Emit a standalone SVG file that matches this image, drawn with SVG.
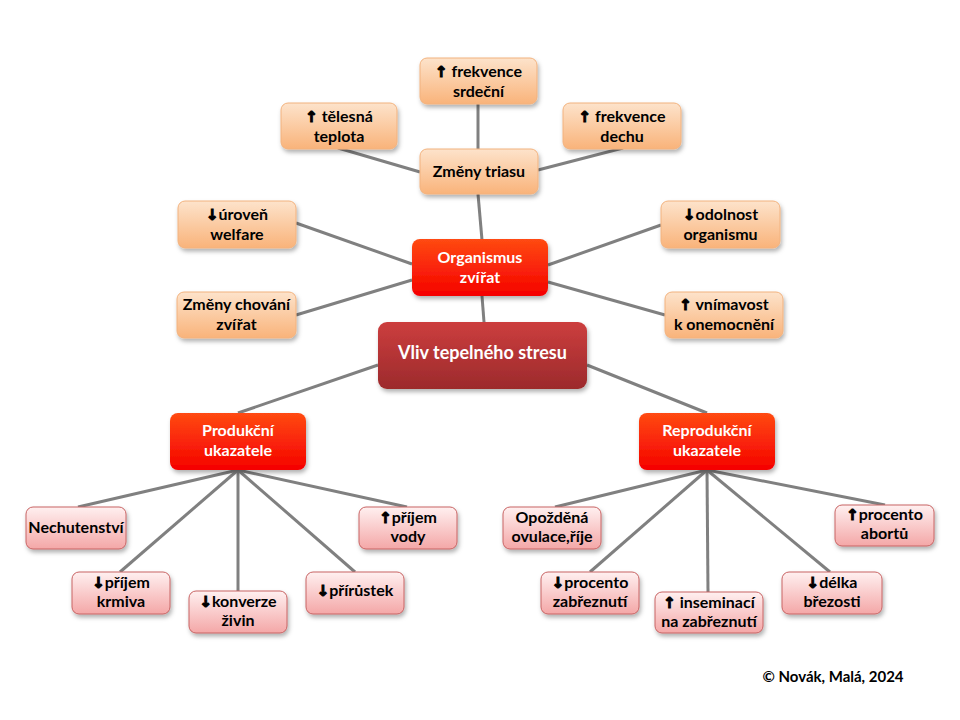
<svg xmlns="http://www.w3.org/2000/svg" width="960" height="720" viewBox="0 0 960 720">
<defs>
<linearGradient id="gOr" x1="0" y1="0" x2="0" y2="1"><stop offset="0" stop-color="#fde3cb"/><stop offset="1" stop-color="#f9b37a"/></linearGradient>
<linearGradient id="gRed" x1="0" y1="0" x2="0" y2="1"><stop offset="0" stop-color="#ff4a12"/><stop offset="1" stop-color="#f50000"/></linearGradient>
<linearGradient id="gDark" x1="0" y1="0" x2="0" y2="1"><stop offset="0" stop-color="#cc3e3e"/><stop offset="1" stop-color="#9c2a2c"/></linearGradient>
<linearGradient id="gPink" x1="0" y1="0" x2="0" y2="1"><stop offset="0" stop-color="#fff0f0"/><stop offset="1" stop-color="#f4a7a7"/></linearGradient>
<filter id="sh" x="-20%" y="-20%" width="140%" height="150%"><feDropShadow dx="1.5" dy="3" stdDeviation="2" flood-color="#000" flood-opacity="0.3"/></filter>
</defs>
<style>
.or{fill:url(#gOr);stroke:#f2b27e;stroke-width:1;filter:url(#sh)}
.rd{fill:url(#gRed);stroke:none;filter:url(#sh)}
.dk{fill:url(#gDark);stroke:none;filter:url(#sh)}
.pk{fill:url(#gPink);stroke:#c86464;stroke-width:1;filter:url(#sh)}
text{font-family:Lato,"Liberation Sans",sans-serif;font-weight:bold;font-size:16px;text-anchor:middle;fill:#000}
.ar{font-family:"DejaVu Sans",sans-serif;font-weight:bold;font-size:15px;stroke:#000;stroke-width:1.1}
.w{fill:#fff}
.big{font-size:18px}
.cp{font-size:15px}
#connectors line{stroke:#808080;stroke-width:3}
</style>
<rect width="960" height="720" fill="#fff"/>
<g id="connectors">
<line x1="478" y1="104" x2="478" y2="149"/>
<line x1="338" y1="148" x2="420" y2="172"/>
<line x1="623" y1="148" x2="538" y2="170"/>
<line x1="478" y1="194" x2="482" y2="240"/>
<line x1="296" y1="223" x2="412" y2="264"/>
<line x1="296" y1="315" x2="412" y2="280"/>
<line x1="661" y1="225" x2="548" y2="265"/>
<line x1="665" y1="315" x2="548" y2="282"/>
<line x1="482" y1="296" x2="484" y2="322"/>
<line x1="378" y1="365" x2="238" y2="413"/>
<line x1="587" y1="365" x2="707" y2="413"/>
<line x1="238" y1="470" x2="78" y2="507"/>
<line x1="238" y1="470" x2="120" y2="572"/>
<line x1="238" y1="470" x2="238" y2="591"/>
<line x1="238" y1="470" x2="355" y2="572"/>
<line x1="238" y1="470" x2="407" y2="507"/>
<line x1="707" y1="470" x2="555" y2="507"/>
<line x1="707" y1="470" x2="590" y2="572"/>
<line x1="707" y1="470" x2="708" y2="592"/>
<line x1="707" y1="470" x2="830" y2="572"/>
<line x1="707" y1="470" x2="885" y2="505"/>
</g>
<g id="srdecni"><rect class="or" x="420" y="58" width="117" height="46" rx="7"/><text x="478.5" y="77"><tspan class="ar">↑</tspan> frekvence</text><text x="478.5" y="97">srdeční</text></g>
<g id="telesna"><rect class="or" x="281" y="103" width="116" height="46" rx="7"/><text x="339" y="122"><tspan class="ar">↑</tspan> tělesná</text><text x="339" y="142">teplota</text></g>
<g id="dechu"><rect class="or" x="563" y="103" width="118" height="46" rx="7"/><text x="622" y="122"><tspan class="ar">↑</tspan> frekvence</text><text x="622" y="142">dechu</text></g>
<g id="triasu"><rect class="or" x="420" y="149" width="118" height="45" rx="7"/><text x="479" y="177">Změny triasu</text></g>
<g id="welfare"><rect class="or" x="178" y="201" width="118" height="47" rx="7"/><text x="237" y="220"><tspan class="ar">↓</tspan>úroveň</text><text x="237" y="240">welfare</text></g>
<g id="chovani"><rect class="or" x="177" y="292" width="119" height="46" rx="7"/><text x="236.5" y="310">Změny chování</text><text x="236.5" y="330">zvířat</text></g>
<g id="odolnost"><rect class="or" x="661" y="201" width="119" height="47" rx="7"/><text x="720.5" y="220"><tspan class="ar">↓</tspan>odolnost</text><text x="720.5" y="240">organismu</text></g>
<g id="vnimavost"><rect class="or" x="665" y="292" width="118" height="46" rx="7"/><text x="724" y="310"><tspan class="ar">↑</tspan> vnímavost</text><text x="724" y="330">k onemocnění</text></g>
<g id="organismus"><rect class="rd" x="412" y="239" width="136" height="57" rx="8"/><text class="w" x="480" y="263">Organismus</text><text class="w" x="480" y="283">zvířat</text></g>
<g id="vliv"><rect class="dk" x="378" y="322" width="209" height="67" rx="9"/><text class="w big" x="482.5" y="359">Vliv tepelného stresu</text></g>
<g id="produkcni"><rect class="rd" x="170" y="413" width="136" height="57" rx="8"/><text class="w" x="238" y="436">Produkční</text><text class="w" x="238" y="456">ukazatele</text></g>
<g id="reprodukcni"><rect class="rd" x="639" y="413" width="136" height="57" rx="8"/><text class="w" x="707" y="436">Reprodukční</text><text class="w" x="707" y="456">ukazatele</text></g>
<g id="nechutenstvi"><rect class="pk" x="26" y="507" width="100" height="42" rx="7"/><text x="76" y="533">Nechutenství</text></g>
<g id="krmiva"><rect class="pk" x="72" y="572" width="98" height="42" rx="7"/><text x="121" y="588"><tspan class="ar">↓</tspan>příjem</text><text x="121" y="607">krmiva</text></g>
<g id="konverze"><rect class="pk" x="189" y="591" width="98" height="42" rx="7"/><text x="238" y="607"><tspan class="ar">↓</tspan>konverze</text><text x="238" y="626">živin</text></g>
<g id="prirustek"><rect class="pk" x="306" y="572" width="98" height="42" rx="7"/><text x="355" y="596"><tspan class="ar">↓</tspan>přírůstek</text></g>
<g id="vody"><rect class="pk" x="359" y="507" width="98" height="42" rx="7"/><text x="408" y="523"><tspan class="ar">↑</tspan>příjem</text><text x="408" y="542">vody</text></g>
<g id="opozdena"><rect class="pk" x="503" y="507" width="98" height="42" rx="7"/><text x="552" y="523">Opožděná</text><text x="552" y="542">ovulace,říje</text></g>
<g id="zabreznuti"><rect class="pk" x="541" y="572" width="98" height="42" rx="7"/><text x="590" y="588"><tspan class="ar">↓</tspan>procento</text><text x="590" y="607">zabřeznutí</text></g>
<g id="inseminaci"><rect class="pk" x="655" y="592" width="108" height="41" rx="7"/><text x="709" y="608"><tspan class="ar">↑</tspan> inseminací</text><text x="709" y="627">na zabřeznutí</text></g>
<g id="brezosti"><rect class="pk" x="782" y="572" width="100" height="42" rx="7"/><text x="832" y="588"><tspan class="ar">↓</tspan>délka</text><text x="832" y="607">březosti</text></g>
<g id="abortu"><rect class="pk" x="835" y="505" width="99" height="41" rx="7"/><text x="884.5" y="520"><tspan class="ar">↑</tspan>procento</text><text x="884.5" y="539">abortů</text></g>
<text class="cp" x="833" y="682">© Novák, Malá, 2024</text>
</svg>
